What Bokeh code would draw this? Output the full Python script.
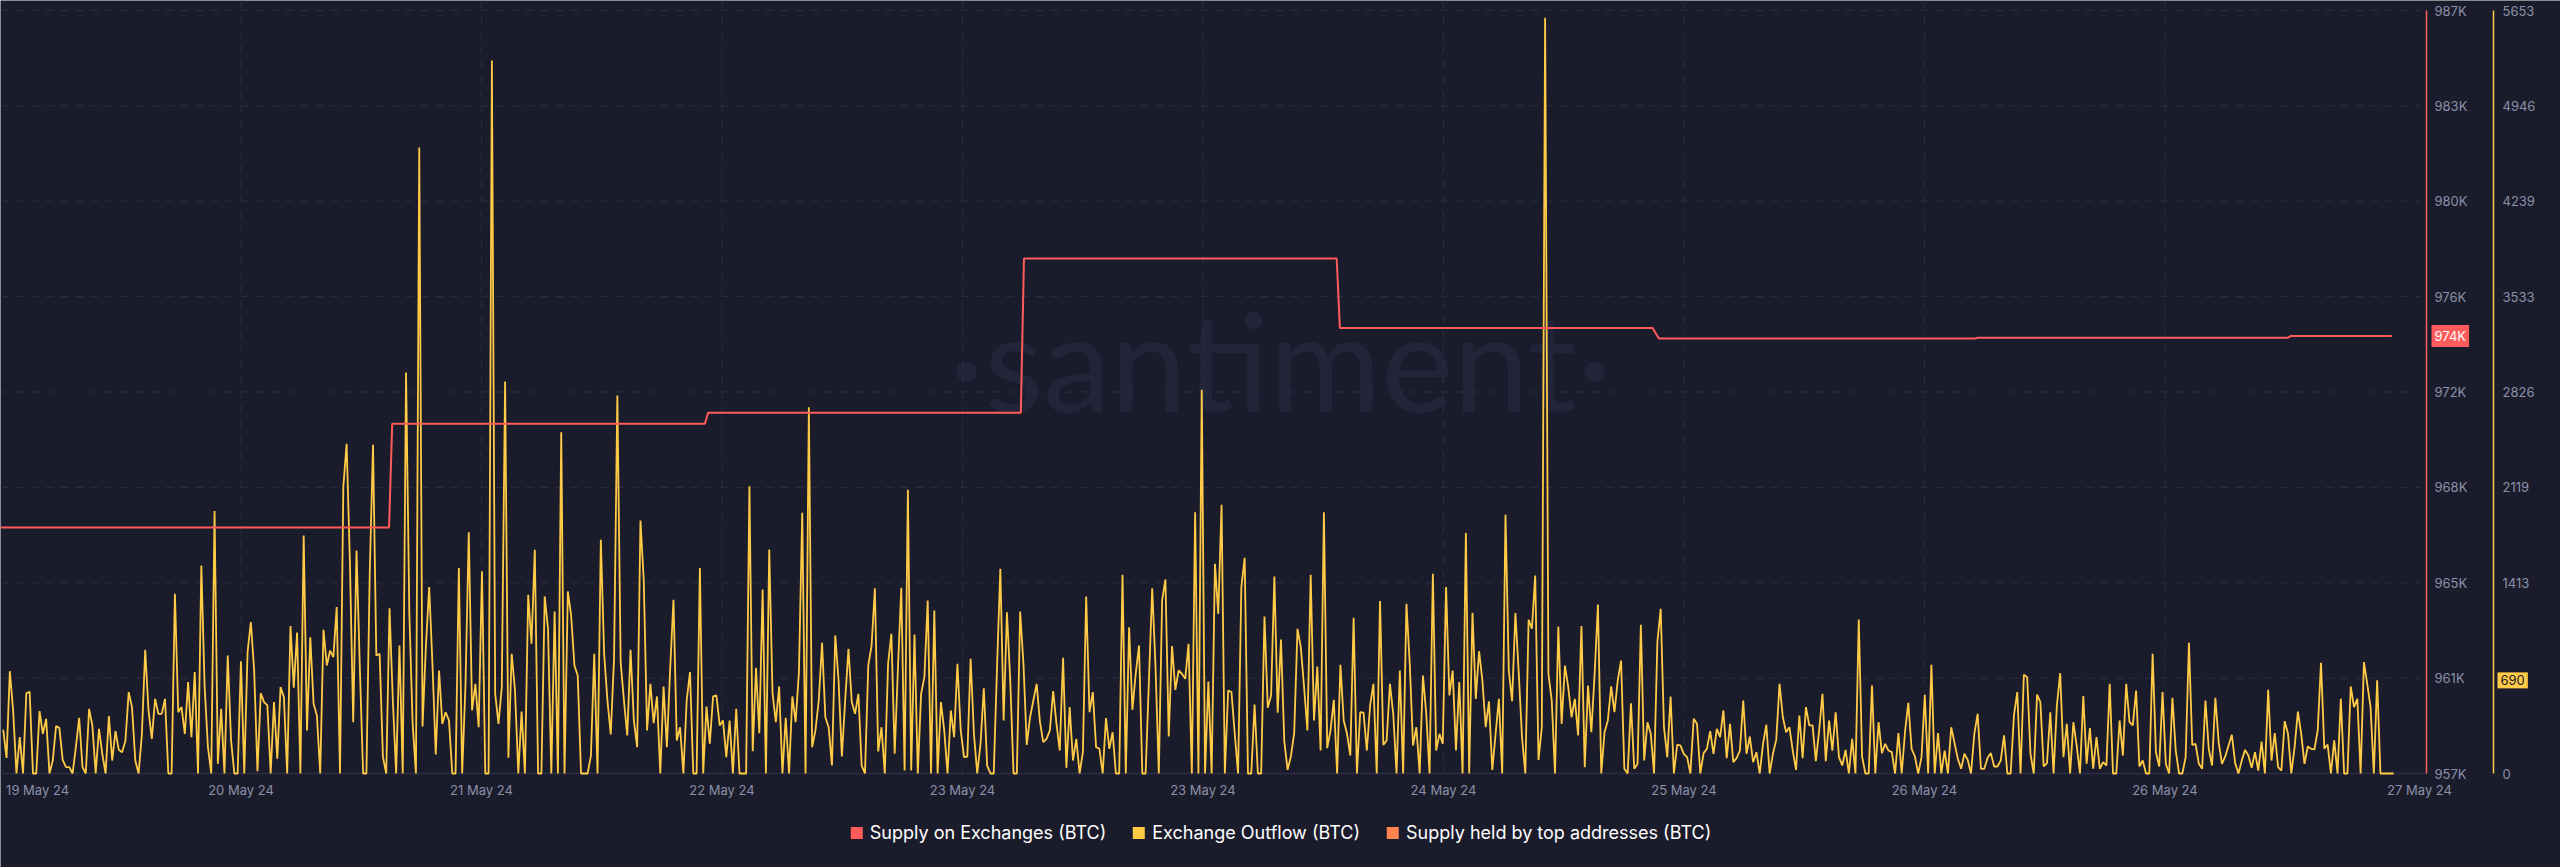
import pandas as pd
from bokeh.plotting import figure
from bokeh.models import Range1d, Legend, LegendItem, Label
from bokeh.core.properties import value
from bokeh.embed import file_html
from bokeh.resources import INLINE

# ---------------- data ----------------
x_tick_labels = ["19 May 24", "20 May 24", "21 May 24", "22 May 24", "23 May 24", "23 May 24",
                 "24 May 24", "25 May 24", "26 May 24", "26 May 24", "27 May 24"]

supply_labels = ["957K", "961K", "965K", "968K", "972K", "976K", "980K", "983K", "987K"]
outflow_labels = ["0", "706", "1413", "2119", "2826", "3533", "4239", "4946", "5653"]

# Supply on Exchanges (BTC) - step changes
supply_times = ["2024-05-19 20:00", "2024-05-21 02:45", "2024-05-21 03:00", "2024-05-22 03:45",
                "2024-05-22 04:00", "2024-05-23 04:45", "2024-05-23 05:00", "2024-05-24 05:45",
                "2024-05-24 06:00", "2024-05-25 06:45", "2024-05-25 07:15", "2024-05-26 08:15",
                "2024-05-26 08:30", "2024-05-27 09:00", "2024-05-27 09:15", "2024-05-27 17:15"]
supply_btc = [966670, 966670, 970750, 970750, 971180, 971180, 977250, 977250,
              974520, 974520, 974100, 974100, 974130, 974130, 974200, 974200]

# Exchange Outflow (BTC), 15-minute samples
outflow_a = [324, 116, 758, 467, 0, 269, 0, 595, 605, 0, 0, 462, 294, 405, 0, 96, 351, 338, 101, 47,
             47, 0, 195, 412, 47, 0, 479, 356, 0, 331, 146, 0, 425, 96, 314, 175, 158, 240, 603, 492,
             96, 0, 294, 916, 467, 257, 553, 442, 442, 553, 0, 0, 1331, 454, 492, 294, 677, 269, 751, 0,
             1541, 640, 195, 0, 1944, 72, 479, 0, 874, 245, 0, 0, 832, 0, 899, 1121, 763, 17, 595, 529,
             504, 0, 529, 109, 640, 566, 0, 1092, 635, 1045, 0, 1764, 319, 1010, 516, 430, 0, 1065, 800, 911,
             862, 1233, 0, 2122, 2443, 1566, 380, 1652, 788, 0, 0, 1480, 2435, 874, 887, 121, 0, 1225, 541, 0,
             948, 0, 2971, 1183, 368, 0, 4638, 348, 936, 1381, 813, 141, 763, 368, 454, 393, 0, 0, 1522, 0,
             652, 1788, 467, 664, 343]
outflow_b = [1499, 0, 0, 5283, 590, 368, 640, 2905, 116, 887, 615, 0, 459, 0, 1324, 961, 1657, 0, 0, 1312,
             1072, 0, 1200, 0, 2529, 0, 1349, 1171, 800, 726, 0, 0, 0, 133, 887, 0, 1731, 887, 541, 289,
             850, 2801, 825, 541, 282, 916, 393, 195, 1875, 1430, 319, 664, 373, 571, 0, 645, 195, 776, 1287, 245,
             343, 0, 541, 751, 0, 0, 1522, 0, 496, 220, 571, 578, 356, 393, 121, 393, 0, 479, 0, 0,
             0, 2129, 165, 783, 299, 1363, 0, 1660, 595, 380, 645, 0, 412, 0, 571, 380, 751, 1932, 0, 2714,
             195, 319, 541, 968, 417, 343, 59, 1023, 689, 126, 541, 924, 529, 442, 590, 59, 0, 800, 948, 1373,
             163, 343, 0, 813, 1035, 146, 788, 1376, 22, 2102, 22, 1030, 0, 590, 714, 1282, 0, 1208, 0, 529,
             319, 0, 467, 269, 813, 319]
outflow_c = [121, 126, 850, 294, 0, 220, 632, 59, 0, 0, 788, 1517, 393, 1195, 689, 0, 0, 1200, 813,
             212, 417, 541, 664, 380, 232, 257, 319, 610, 368, 170, 857, 42, 492, 96, 257, 0, 158, 1312, 454,
             603, 195, 183, 0, 410, 183, 306, 0, 0, 1472, 0, 1084, 472, 739, 948, 0, 0, 689, 1373, 788,
             0, 1282, 1438, 274, 944, 620, 763, 739, 701, 961, 0, 1936, 0, 2843, 0, 682, 0, 1554, 1183, 1991,
             0, 615, 603, 294, 0, 1381, 1598, 0, 0, 511, 0, 0, 1163, 487, 578, 1460, 450, 993, 240, 27,
             126, 299, 1072, 936, 640, 319, 1472, 393, 793, 170, 1936, 188, 319, 546, 0, 805, 393, 294, 133, 1153,
             0, 454, 450, 170, 504, 664, 0, 1277, 212, 245, 664, 442, 0, 763, 0, 1257, 813, 207, 343, 0,
             726, 442, 0, 1480, 170, 294, 220]
outflow_d = [1381, 578, 763, 170, 677, 0, 1781, 0, 1191, 553, 906, 689, 343, 534, 27, 294, 553, 0, 1917,
             763, 536, 1188, 751, 269, 0, 1139, 1072, 1467, 101, 343, 5600, 739, 541, 0, 1089, 368, 800, 640, 417,
             553, 282, 1092, 47, 652, 306, 739, 1252, 0, 306, 393, 645, 454, 689, 837, 35, 0, 521, 35, 72,
             1102, 96, 380, 294, 0, 973, 1220, 343, 121, 571, 0, 215, 207, 146, 121, 0, 405, 368, 0, 151,
             183, 314, 146, 331, 269, 467, 114, 368, 84, 114, 170, 541, 146, 274, 84, 158, 0, 220, 361, 0,
             146, 249, 664, 417, 306, 343, 170, 27, 430, 114, 492, 356, 356, 91, 319, 590, 91, 393, 170, 454,
             121, 59, 175, 0, 257, 0, 1141, 126, 0, 0, 652, 0, 380, 151, 220, 170, 158, 0, 299, 0,
             306, 524, 183, 126, 0]
outflow_e = [121, 583, 0, 805, 0, 299, 0, 170, 0, 343, 225, 109, 35, 146, 101, 0, 294, 442, 35, 35,
             114, 151, 52, 52, 96, 282, 0, 0, 430, 603, 0, 731, 714, 146, 0, 585, 529, 52, 77, 454,
             0, 504, 743, 121, 368, 0, 380, 207, 0, 573, 72, 336, 35, 269, 35, 84, 59, 664, 0, 0,
             393, 133, 664, 380, 356, 615, 52, 96, 0, 0, 887, 158, 52, 603, 72, 0, 561, 170, 0, 0,
             121, 968, 212, 220, 72, 35, 541, 183, 59, 561, 232, 72, 126, 207, 287, 77, 0, 96, 175, 133,
             42, 158, 22, 237, 0, 620, 96, 299, 47, 22, 388, 294, 0, 195, 459, 294, 72, 200, 183, 178,
             319, 820, 183, 215, 0, 245, 0, 553, 0, 0, 645, 492, 553, 0, 825, 664, 492, 0, 690, 0,
             0, 0, 0, 0]
outflow_btc = outflow_a + outflow_b + outflow_c + outflow_d + outflow_e
outflow_start = "2024-05-19 20:13"
outflow_end = "2024-05-27 17:24"

latest_supply_label = "974K"
latest_supply = 974200
latest_outflow = 690

supply_min, supply_max = 957000, 987000
outflow_min, outflow_max = 0, 5653

# ---------------- layout / style ----------------
BG = "#1b1c2b"
GRID = "#2b2e43"
TXT = "#8a90a8"
RED = "#ff5b5b"
YEL = "#ffcb47"
ORG = "#ff8450"
FONT = "Inter"

W, H = 2560, 867
PLOT_TOP, PLOT_BOTTOM = 10, 773   # px rows of the top and bottom value
AXIS_X = 2426                     # red scale line
AXIS2_X = 2493                    # yellow scale line
XLABEL_Y = 789                    # px row of the date labels
x_start = pd.Timestamp("2024-05-19 20:00")
span_hours = 192.0                # hours covered by AXIS_X px


def px_time(px):
    return x_start + pd.Timedelta(hours=px * span_hours / AXIS_X)


def ms(t):
    return int(pd.Timestamp(t).value // 10**6)


def full_range(lo, hi):
    per_px = (hi - lo) / (PLOT_BOTTOM - PLOT_TOP)
    return lo - (H - PLOT_BOTTOM) * per_px, hi + PLOT_TOP * per_px


def row_value(lo, hi, py):
    per_px = (hi - lo) / (PLOT_BOTTOM - PLOT_TOP)
    return lo - (py - PLOT_BOTTOM) * per_px


x_end = px_time(W)
tick_step = pd.Timedelta(hours=19, minutes=2)
s_lo, s_hi = full_range(supply_min, supply_max)
o_lo, o_hi = full_range(outflow_min, outflow_max)

times = pd.date_range(pd.Timestamp(outflow_start), pd.Timestamp(outflow_end), periods=len(outflow_btc))
s_times = pd.to_datetime(supply_times)

p = figure(width=W, height=H, x_axis_type="datetime",
           x_range=Range1d(x_start.to_pydatetime(), x_end.to_pydatetime()),
           y_range=Range1d(s_lo, s_hi), x_axis_location=None, y_axis_location=None,
           output_backend="svg", toolbar_location=None,
           background_fill_color=BG, border_fill_color=BG, outline_line_color=None,
           min_border_left=0, min_border_top=0, min_border_bottom=0, min_border_right=0)
p.extra_y_ranges = {"outflow": Range1d(o_lo, o_hi)}
p.xgrid.visible = False
p.ygrid.visible = False

# watermark (beneath everything)
p.add_layout(Label(x=1280, y=508, x_units="screen", y_units="screen", text="\u00b7santiment\u00b7",
                   text_align="center", text_baseline="alphabetic", text_font="Lato",
                   text_font_size="136px", text_color="#22253a", level="underlay"))

# dashed grid
red_ticks = [supply_min + (supply_max - supply_min) * k / (len(supply_labels) - 1)
             for k in range(len(supply_labels))]
grid_end = ms(px_time(2420))
p.segment(x0=[ms(x_start)] * (len(red_ticks) - 1), x1=[grid_end] * (len(red_ticks) - 1),
          y0=red_ticks[1:], y1=red_ticks[1:], line_color=GRID, line_dash="8 7", line_width=1)
vgrid = [ms(x_start + k * tick_step) for k in range(1, 10)]
p.segment(x0=vgrid, x1=vgrid, y0=[supply_min] * len(vgrid), y1=[s_hi] * len(vgrid),
          line_color=GRID, line_dash="8 7", line_width=1)
# baseline
p.segment(x0=[ms(x_start)], x1=[ms(px_time(AXIS_X))], y0=[supply_min], y1=[supply_min],
          line_color=GRID, line_width=1.5)

# date labels
label_times = ([x_start + pd.Timedelta(hours=2, minutes=56)]
               + [x_start + k * tick_step for k in range(1, 10)]
               + [x_start + pd.Timedelta(hours=191, minutes=27)])
p.text(x=[ms(t) for t in label_times], y=[row_value(supply_min, supply_max, XLABEL_Y)] * len(label_times),
       text=x_tick_labels, text_align="center", text_baseline="middle", text_font=value(FONT),
       text_font_size="13px", text_color=TXT)

# right-hand value scales
p.segment(x0=[ms(px_time(AXIS_X))], x1=[ms(px_time(AXIS_X))], y0=[supply_min], y1=[supply_max],
          line_color=RED, line_width=1.5)
p.text(x=[ms(px_time(AXIS_X + 8))] * len(red_ticks), y=red_ticks, text=supply_labels,
       text_align="left", text_baseline="middle", text_font=value(FONT),
       text_font_size="13px", text_color=TXT)

y_ticks = [outflow_min + (outflow_max - outflow_min) * k / (len(outflow_labels) - 1)
           for k in range(len(outflow_labels))]
shown = [(t, lab) for t, lab in zip(y_ticks, outflow_labels) if abs(t - latest_outflow) > 200]
p.segment(x0=[ms(px_time(AXIS2_X))], x1=[ms(px_time(AXIS2_X))], y0=[outflow_min], y1=[outflow_max],
          line_color=YEL, line_width=1.5, y_range_name="outflow")
p.text(x=[ms(px_time(AXIS2_X + 9))] * len(shown), y=[t for t, _ in shown], text=[l for _, l in shown],
       text_align="left", text_baseline="middle", text_font=value(FONT),
       text_font_size="13px", text_color=TXT, y_range_name="outflow")

# series
p.line(times, outflow_btc, y_range_name="outflow", line_color=YEL, line_width=1.8)
p.line(s_times, supply_btc, line_color=RED, line_width=2)

# badges for latest values
p.add_layout(Label(x=ms(px_time(AXIS_X + 5)), y=latest_supply, text=latest_supply_label,
                   text_baseline="middle", text_align="left", text_font=FONT, text_font_size="13px",
                   text_color="#ffffff", background_fill_color=RED, padding=3))
p.add_layout(Label(x=ms(px_time(AXIS2_X + 4)), y=latest_outflow, y_range_name="outflow",
                   text=str(latest_outflow), text_baseline="middle", text_align="left", text_font=FONT,
                   text_font_size="13px", text_color=BG, background_fill_color=YEL, padding=3))

# legend (square swatches; the swatch glyphs sit outside the visible range)
hidden = dict(left=[ms(x_start)], right=[ms(x_start)], top=[0], bottom=[0], line_color=None)
q1 = p.quad(fill_color=RED, **hidden)
q2 = p.quad(fill_color=YEL, **hidden)
q3 = p.quad(fill_color=ORG, **hidden)
legend = Legend(items=[LegendItem(label="Supply on Exchanges (BTC)", renderers=[q1]),
                       LegendItem(label="Exchange Outflow (BTC)", renderers=[q2]),
                       LegendItem(label="Supply held by top addresses (BTC)", renderers=[q3])],
                orientation="horizontal", location="bottom_center",
                background_fill_alpha=0, border_line_color=None,
                label_text_color="#ffffff", label_text_font=FONT, label_text_font_size="18px",
                glyph_width=15, glyph_height=15, label_standoff=6, spacing=25,
                padding=0, margin=24)
p.add_layout(legend, "center")

open("out.html", "w").write(file_html(p, INLINE))
